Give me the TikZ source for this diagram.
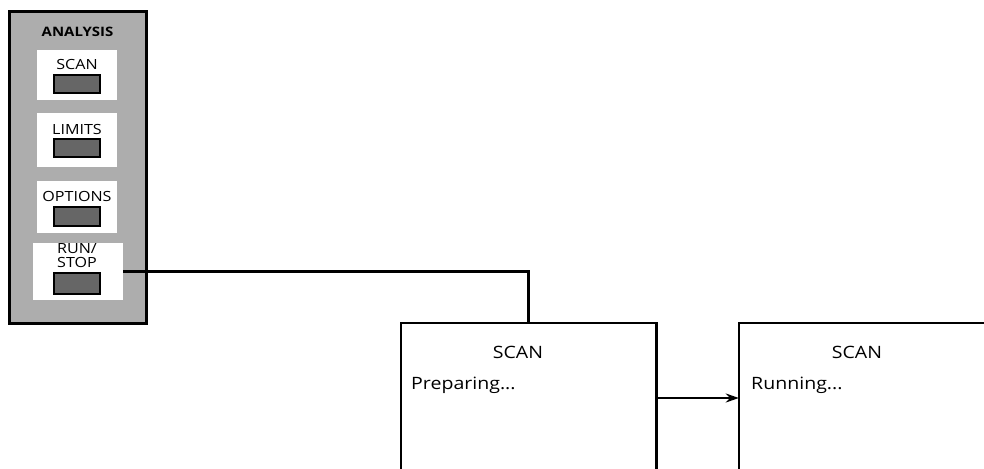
\documentclass[tikz,border=0pt]{standalone}
\usepackage{fontspec}
\setmainfont{Open Sans}[FakeStretch=1.15]
\usetikzlibrary{arrows.meta}
\begin{document}
\begin{tikzpicture}[x=1pt,y=-1pt,
  panelbg/.style={fill=black!32, draw=black, line width=3pt},
  whitepad/.style={fill=white, draw=none, inner sep=0pt},
  keybox/.style={fill=black!60, draw=black, line width=2.2pt, inner sep=0pt},
  plabel/.style={font=\fontsize{14}{13}\selectfont, inner sep=0pt},
  blabel/.style={font=\fontsize{17}{17}\selectfont, inner sep=0pt},
  conn/.style={line width=2.6pt},
  winedge/.style={line width=2.6pt, line join=miter}]
\useasboundingbox (0,0) rectangle (984,468);
% panel
\draw[panelbg] (9,12) rectangle (146,323);
\node[font=\bfseries\fontsize{13}{13}\selectfont, inner sep=0pt] (title) at (77.5,32) {ANALYSIS};
% white pads
\node[whitepad, minimum width=80pt, minimum height=50pt] (p1) at (77,75) {};
\node[whitepad, minimum width=80pt, minimum height=54pt] (p2) at (77,140) {};
\node[whitepad, minimum width=80pt, minimum height=52pt] (p3) at (77,207) {};
\node[whitepad, minimum width=90pt, minimum height=57pt] (p4) at (78,271.5) {};
% labels
\node[plabel] (l1) at (77,64) {SCAN};
\node[plabel] (l2) at (77,129) {LIMITS};
\node[plabel] (l3) at (77,196) {OPTIONS};
\node[plabel] (l4a) at (77,249) {RUN/};
\node[plabel] (l4b) at (77,262) {STOP};
% keys
\node[keybox, minimum width=46pt, minimum height=18pt] (k1) at (77,84) {};
\node[keybox, minimum width=46pt, minimum height=18pt] (k2) at (77,148) {};
\node[keybox, minimum width=46pt, minimum height=19pt] (k3) at (77,216.5) {};
\node[keybox, minimum width=46pt, minimum height=21pt] (k4) at (77,283.5) {};
% windows (open at the bottom)
\node[draw=none, minimum width=255pt, minimum height=150pt, inner sep=0pt] (w1) at (528.5,398) {};
\node[draw=none, minimum width=260pt, minimum height=150pt, inner sep=0pt] (w2) at (869,398) {};
\draw[winedge] (w1.south west) -- (w1.north west) -- (w1.north east) -- (w1.south east);
\draw[winedge] (w2.south west) -- (w2.north west) -- (w2.north east);
\node[blabel] (t1) at (518,352) {SCAN};
\node[blabel, anchor=west] (s1) at (411,385) {Preparing...};
\node[blabel] (t2) at (857,352) {SCAN};
\node[blabel, anchor=west] (s2) at (751,385) {Running...};
% connectors
\draw[conn] (p4.east) -| (w1.north);
\draw[conn, -{Stealth[length=13pt, width=9pt]}] (w1.east) -- (w1.east -| w2.west);
\end{tikzpicture}
\end{document}
